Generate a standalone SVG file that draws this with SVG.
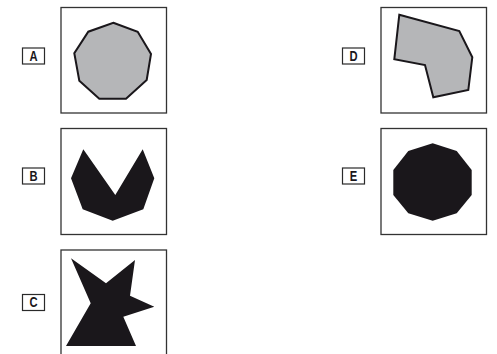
<svg xmlns="http://www.w3.org/2000/svg" width="497" height="354" viewBox="0 0 497 354">
  <style>
    .frame { fill: #ffffff; stroke: #333333; stroke-width: 1.3; }
    .tag { fill: #ffffff; stroke: #2a2a2a; stroke-width: 1.2; }
    .tagtext { font-family: "Liberation Sans", Arial, sans-serif; font-weight: bold; font-size: 14px; fill: #1a171b; text-anchor: middle; }
    .grey { fill: #b5b6b8; stroke: #1a171b; stroke-width: 2; stroke-linejoin: miter; }
    .dark { fill: #1a171b; stroke: none; }
  </style>
  <rect width="497" height="354" fill="#ffffff"/>

  <g id="A">
    <rect class="tag" x="22.5" y="48" width="22" height="16"/>
    <text class="tagtext" x="33.5" y="61" transform="translate(33.5 0) scale(0.8 1) translate(-33.5 0)">A</text>
    <rect class="frame" x="61" y="7.5" width="105.5" height="105.5"/>
    <polygon class="grey" points="113.3,22.7 137.7,31.7 151,54 146.7,80 126,98.7 99.3,98.7 79.3,80.7 74.3,53.3 88.3,31.7"/>
  </g>

  <g id="B">
    <rect class="tag" x="22.5" y="168" width="22" height="16"/>
    <text class="tagtext" x="33.5" y="181" transform="translate(33.5 0) scale(0.8 1) translate(-33.5 0)">B</text>
    <rect class="frame" x="61" y="128.5" width="105.5" height="106"/>
    <polygon class="dark" points="83.3,149.3 115.3,195 142.7,149.3 154.3,178.3 143.3,209.3 112.7,220.7 82.7,209.3 71,178.3"/>
  </g>

  <g id="C">
    <rect class="tag" x="22.5" y="294.5" width="22" height="16"/>
    <text class="tagtext" x="33.5" y="307.5" transform="translate(33.5 0) scale(0.8 1) translate(-33.5 0)">C</text>
    <rect class="frame" x="61" y="250" width="105.5" height="110"/>
    <polygon class="dark" points="71,258.3 106,283.3 135,260 130,295.7 154.3,306.7 123.3,316.7 136,346 66,346 90.7,303.3"/>
  </g>

  <g id="D">
    <rect class="tag" x="342.5" y="48" width="22" height="16"/>
    <text class="tagtext" x="353.5" y="61" transform="translate(353.5 0) scale(0.8 1) translate(-353.5 0)">D</text>
    <rect class="frame" x="381" y="7.5" width="105.5" height="105.5"/>
    <polygon class="grey" points="399.3,14.7 459.3,31 472.3,57.3 468.3,90 433.3,97.3 425,65 394.3,59.3"/>
  </g>

  <g id="E">
    <rect class="tag" x="342.5" y="168" width="22" height="16"/>
    <text class="tagtext" x="353.5" y="181" transform="translate(353.5 0) scale(0.8 1) translate(-353.5 0)">E</text>
    <rect class="frame" x="381" y="128.5" width="105.5" height="106"/>
    <polygon class="dark" points="432.7,143.3 456.7,151 471.7,170 471.7,195 456.7,213.3 432.7,220.7 408.3,213.3 393.3,195 393.3,170 408.3,151"/>
  </g>

  <g id="connectors"></g>
</svg>
